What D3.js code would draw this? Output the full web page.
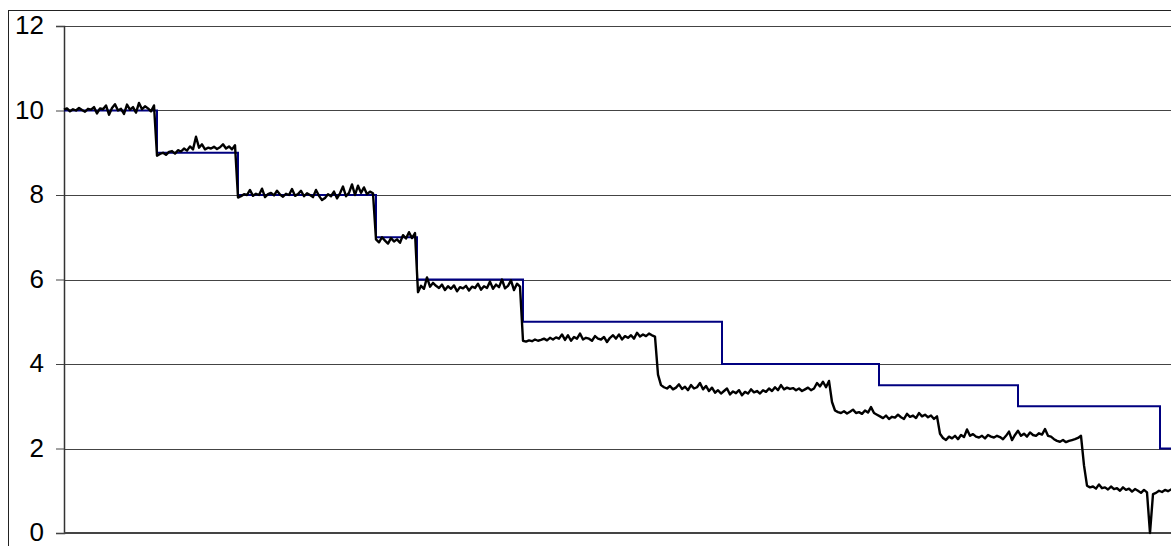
<!DOCTYPE html>
<html>
<head>
<meta charset="utf-8">
<script src="https://cdn.jsdelivr.net/npm/d3@7"></script>
<style>
  html, body { margin: 0; padding: 0; background: #fff; overflow: hidden; }
  svg { display: block; }
</style>
</head>
<body>
<svg id="chart" width="1171" height="546"></svg>
<script>
// Y axis ticks
const yTicks = [0, 2, 4, 6, 8, 10, 12];

// Setpoint schedule (stepped target), time units
const setpointTimes  = [0, 93, 174, 312, 353, 459, 658, 815, 954, 1096];
const setpointValues = [10, 9, 8, 7, 6, 5, 4, 3.5, 3, 2];
const endTime = 1110;

// Measured signal, sampled every 3 time units from t = 0
const sampleStep = 3;
const measuredLevel10 = [10.02, 10.05, 9.98, 10.03, 10.0, 10.06, 10.01, 9.97, 10.04, 10.02,
  10.08, 9.93, 10.05, 10.03, 10.12, 9.9, 10.06, 10.15, 10.0, 10.04,
  9.92, 10.14, 10.02, 10.08, 9.95, 10.18, 10.03, 10.1, 10.05, 9.98, 10.12];
const measuredLevel9 = [8.93, 8.97, 9.0, 8.95, 9.02, 9.04, 8.98, 9.06, 9.03, 9.1,
  9.05, 9.15, 9.08, 9.38, 9.12, 9.2, 9.08, 9.12, 9.1, 9.14,
  9.09, 9.13, 9.2, 9.1, 9.15, 9.08, 9.18];
const measuredLevel8 = [7.94, 7.97, 8.02, 8.0, 8.12, 7.98, 8.03, 8.0, 8.15, 7.95,
  8.02, 8.05, 7.99, 8.1, 8.01, 7.96, 8.03, 8.0, 8.14, 7.98,
  8.02, 8.1, 7.97, 8.04, 8.0, 7.95, 8.12, 7.98, 7.88, 7.93,
  8.02, 7.97, 8.08, 7.92, 8.04, 8.2, 7.97, 8.05, 8.25, 8.0,
  8.22, 8.05, 8.18, 8.02, 8.08, 8.04];
const measuredLevel7 = [6.95, 6.88, 7.0, 6.92, 6.85, 6.98, 6.9, 6.95, 6.87, 7.05, 6.97, 7.12, 6.98, 7.1];
const measuredLevel6 = [5.7, 5.85, 5.78, 6.05, 5.83, 5.92, 5.85, 5.8, 5.88, 5.75,
  5.84, 5.78, 5.86, 5.72, 5.82, 5.79, 5.85, 5.74, 5.83, 5.8,
  5.9, 5.76, 5.84, 5.8, 5.95, 5.78, 5.88, 5.82, 6.0, 5.79,
  5.85, 5.98, 5.75, 5.9, 5.83];
const measuredLevel5 = [4.55, 4.53, 4.56, 4.54, 4.58, 4.55, 4.57, 4.6, 4.56, 4.62,
  4.58, 4.63, 4.6, 4.7, 4.57, 4.68, 4.55, 4.64, 4.6, 4.72,
  4.58, 4.62, 4.6, 4.55, 4.66, 4.6, 4.58, 4.64, 4.52, 4.62,
  4.68, 4.6, 4.7, 4.58, 4.66, 4.62, 4.68, 4.6, 4.74, 4.65,
  4.7, 4.66, 4.72, 4.68, 4.65];
const measuredLevel4 = [3.75, 3.5, 3.45, 3.42, 3.48, 3.4, 3.44, 3.52, 3.41, 3.46,
  3.38, 3.5, 3.42, 3.45, 3.55, 3.4, 3.48, 3.36, 3.44, 3.32,
  3.38, 3.3, 3.36, 3.42, 3.28, 3.35, 3.31, 3.38, 3.26, 3.34,
  3.3, 3.4, 3.33, 3.36, 3.3, 3.38, 3.34, 3.42, 3.36, 3.45,
  3.38, 3.5, 3.4, 3.44, 3.41, 3.43, 3.38, 3.42, 3.36, 3.4,
  3.44, 3.38, 3.42, 3.55, 3.47, 3.58, 3.45, 3.6];
const measuredLevel35 = [3.1, 2.9, 2.86, 2.84, 2.88, 2.83, 2.87, 2.92, 2.84, 2.86,
  2.82, 2.9, 2.85, 2.98, 2.84, 2.8, 2.76, 2.72, 2.78, 2.7,
  2.75, 2.73, 2.8, 2.74, 2.7, 2.82, 2.75, 2.78, 2.72, 2.84,
  2.76, 2.8, 2.74, 2.78, 2.7, 2.76];
const measuredLevel3 = [2.35, 2.25, 2.2, 2.28, 2.24, 2.3, 2.22, 2.32, 2.27, 2.45,
  2.3, 2.34, 2.28, 2.26, 2.3, 2.24, 2.32, 2.28, 2.26, 2.3,
  2.27, 2.22, 2.3, 2.4, 2.2, 2.32, 2.42, 2.3, 2.35, 2.28,
  2.38, 2.32, 2.3, 2.36, 2.33, 2.46, 2.3, 2.28, 2.22, 2.18,
  2.16, 2.2, 2.15, 2.18, 2.2, 2.22, 2.25, 2.3];
const measuredLevel2 = [1.6, 1.12, 1.08, 1.1, 1.05, 1.15, 1.06, 1.08, 1.03, 1.1,
  1.04, 1.06, 1.0, 1.08, 1.02, 1.05, 0.98, 1.04, 1.0, 0.95,
  1.02, 0.96, 0.0, 0.92, 0.95, 1.0, 0.97, 1.02, 0.99, 1.03, 1.0];

const measured = [].concat(measuredLevel10, measuredLevel9, measuredLevel8, measuredLevel7,
  measuredLevel6, measuredLevel5, measuredLevel4, measuredLevel35, measuredLevel3, measuredLevel2);

const svg = d3.select("#chart");
const plot = { left: 64, top: 26, right: 1174, bottom: 533 };

const x = d3.scaleLinear().domain([0, endTime]).range([plot.left, plot.right]);
const y = d3.scaleLinear().domain([0, 12]).range([plot.bottom, plot.top]);

// Outer frame
svg.append("rect")
  .attr("x", 8.5).attr("y", 10.5)
  .attr("width", 1200).attr("height", 600)
  .attr("fill", "#fff").attr("stroke", "#222").attr("stroke-width", 1);

// Horizontal grid lines
svg.append("g")
  .selectAll("line")
  .data(yTicks.filter(d => d > 0))
  .join("line")
  .attr("x1", plot.left).attr("x2", 1200)
  .attr("y1", d => Math.round(y(d)) + 0.5).attr("y2", d => Math.round(y(d)) + 0.5)
  .attr("stroke", "#444").attr("stroke-width", 1);

// Y axis with left ticks
const yAxis = d3.axisLeft(y).tickValues(yTicks).tickSize(8).tickPadding(12)
  .tickFormat(d3.format("d"));
const yAxisG = svg.append("g")
  .attr("transform", `translate(${plot.left},0)`)
  .call(yAxis);
yAxisG.select(".domain").attr("stroke", "#333").attr("stroke-width", 1.5);
yAxisG.selectAll(".tick line").attr("stroke", "#444");
yAxisG.selectAll(".tick text")
  .attr("font-family", "Arial, 'Liberation Sans', sans-serif")
  .attr("font-size", 26)
  .attr("dy", "0.3em")
  .attr("fill", "#000");

// Baseline at zero
svg.append("line")
  .attr("x1", plot.left).attr("x2", 1200)
  .attr("y1", y(0)).attr("y2", y(0))
  .attr("stroke", "#444").attr("stroke-width", 2);

// Setpoint step line
const setpointData = setpointTimes.map((t, i) => ({ t, v: setpointValues[i] }));
setpointData.push({ t: endTime + 20, v: setpointValues[setpointValues.length - 1] });
svg.append("path")
  .datum(setpointData)
  .attr("fill", "none")
  .attr("stroke", "#000080")
  .attr("stroke-width", 2)
  .attr("d", d3.line().x(d => x(d.t)).y(d => y(d.v)).curve(d3.curveStepAfter));

// Measured trace
svg.append("path")
  .datum(measured)
  .attr("fill", "none")
  .attr("stroke", "#000")
  .attr("stroke-width", 2.4)
  .attr("stroke-linejoin", "round")
  .attr("d", d3.line().x((d, i) => x(i * sampleStep)).y(d => y(d)));
</script>
</body>
</html>
